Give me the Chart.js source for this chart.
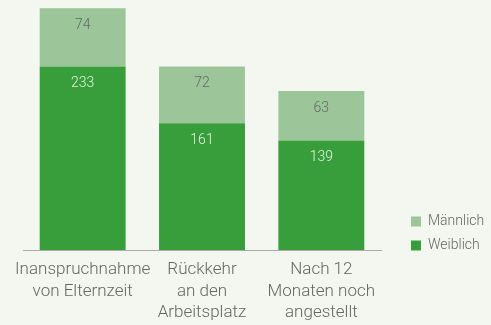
<!DOCTYPE html>
<html lang="de">
<head>
<meta charset="utf-8">
<script src="https://cdn.jsdelivr.net/npm/chart.js@4"></script>
<style>
  html, body { margin: 0; padding: 0; background: #f4f6f0; }
  #wrap { width: 491px; height: 325px; }
</style>
</head>
<body>
<div id="wrap"><canvas id="chart"></canvas></div>
<script>
// Werte je Kategorie (Personen)
const categories = [
  ['Inanspruchnahme', 'von Elternzeit'],
  ['Rückkehr', 'an den', 'Arbeitsplatz'],
  ['Nach 12', 'Monaten noch', 'angestellt']
];
const weiblich = [233, 161, 139];
const maennlich = [74, 72, 63];

const FONT = 'Roboto';

// Zahlen oben in jedem Segment
const segmentLabels = {
  id: 'segmentLabels',
  afterDatasetsDraw(chart) {
    const ctx = chart.ctx;
    ctx.save();
    ctx.font = '300 14px ' + FONT;
    ctx.textAlign = 'center';
    ctx.textBaseline = 'middle';
    chart.data.datasets.forEach((ds, i) => {
      chart.getDatasetMeta(i).data.forEach((bar, j) => {
        ctx.fillStyle = ds.labelColor;
        ctx.fillText(ds.data[j], bar.x, bar.y + 17);
      });
    });
    ctx.restore();
  }
};

// Legende rechts unten neben der Achse, mit etwas Abstand zum Diagramm
const legendPlacement = {
  id: 'legendPlacement',
  beforeLayout(chart) {
    const legend = chart.legend;
    if (legend && !legend._fixedWidth) {
      const fit = legend.fit;
      legend.fit = function () { fit.call(this); this.width = 110; };
      legend._fixedWidth = true;
    }
  },
  afterLayout(chart) {
    const legend = chart.legend;
    const area = chart.chartArea;
    legend.left = area.right + 20;
    legend.right = legend.left + 90;
    legend.bottom = area.bottom + 12.5;
    legend.top = legend.bottom - 60;
  }
};

new Chart(document.getElementById('chart'), {
  type: 'bar',
  data: {
    labels: categories,
    datasets: [
      {
        label: 'Weiblich',
        data: weiblich,
        backgroundColor: '#389e3c',
        labelColor: '#e6f3e4'
      },
      {
        label: 'Männlich',
        data: maennlich,
        backgroundColor: '#9cc59a',
        labelColor: '#666666'
      }
    ]
  },
  options: {
    responsive: true,
    maintainAspectRatio: false,
    animation: false,
    barPercentage: 0.72,
    categoryPercentage: 1,
    layout: { padding: { left: 23, top: 6, right: 0, bottom: 0 } },
    plugins: {
      tooltip: { enabled: false },
      legend: {
        position: 'right',
        align: 'end',
        reverse: true,
        labels: {
          boxWidth: 10,
          boxHeight: 10,
          padding: 10,
          color: '#666666',
          font: { family: FONT, size: 14, weight: '300' }
        }
      }
    },
    scales: {
      x: {
        stacked: true,
        // feste Höhe für die dreizeiligen Kategorien
        afterFit(scale) { scale.height = 75; },
        grid: { display: false, drawTicks: false },
        border: { color: '#aaaaaa', width: 1 },
        ticks: {
          color: '#666666',
          padding: 9,
          maxRotation: 0,
          autoSkip: false,
          font: { family: FONT, size: 17, weight: '300', lineHeight: 1.27 }
        }
      },
      y: { stacked: true, display: false, min: 0, max: 310 }
    }
  },
  plugins: [segmentLabels, legendPlacement]
});
</script>
</body>
</html>
